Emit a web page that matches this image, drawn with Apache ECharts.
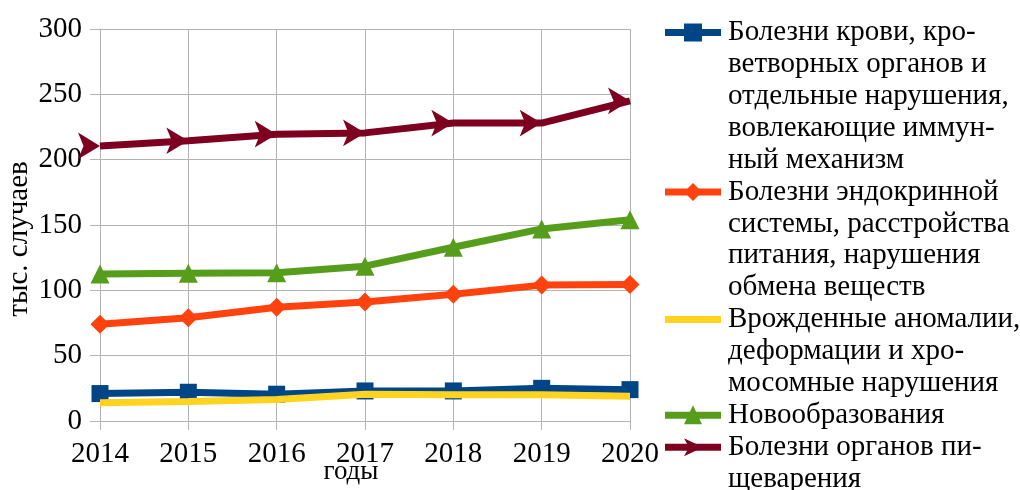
<!DOCTYPE html>
<html>
<head>
<meta charset="utf-8">
<script src="https://cdn.jsdelivr.net/npm/echarts@6/dist/echarts.min.js"></script>
<style>
  html, body {margin: 0; padding: 0; background: #fff;}
  #chart {width: 1020px; height: 490px;}
</style>
</head>
<body>
<div id="chart"></div>
<script>
// данные
var years = ['2014', '2015', '2016', '2017', '2018', '2019', '2020'];
var blood = [21, 22, 20.5, 23, 23, 25, 24];
var endocrine = [74, 79, 87, 91, 97, 104, 104.5];
var congenital = [14, 15, 16.5, 20.5, 20, 20, 19];
var neoplasms = [112.5, 113, 113.5, 118.5, 133, 147, 154];
var digestive = [210.5, 214.5, 219.5, 220.5, 228, 228, 245];
var yTicks = [0, 50, 100, 150, 200, 250, 300];

var legendLines = [
    ['Болезни крови, кро-', 'ветворных органов и', 'отдельные нарушения,', 'вовлекающие иммун-', 'ный механизм'],
    ['Болезни эндокринной', 'системы, расстройства', 'питания, нарушения', 'обмена веществ'],
    ['Врожденные аномалии,', 'деформации и хро-', 'мосомные нарушения'],
    ['Новообразования'],
    ['Болезни органов пи-', 'щеварения']
];

var colors = ['#004586', '#ff420e', '#ffd320', '#579d1c', '#7e0021'];
var font = "Liberation Serif";
var gridColor = '#b3b3b3';

function seriesName(i) {
    return legendLines[i].join(' ').replace(/- /g, '');
}

function lineSeries(i, data, symbol, size, extra) {
    var s = {
        name: seriesName(i),
        type: 'line',
        data: data,
        symbol: symbol,
        symbolSize: size,
        showSymbol: symbol !== 'none',
        lineStyle: {color: colors[i], width: 7},
        itemStyle: {color: colors[i]},
        z: 2
    };
    for (var k in extra) s[k] = extra[k];
    return s;
}

// легенда справа: значки через graphic, подписи через title (многострочный текст)
var lineH = 31.9;
var legendTop = 32.5;
var graphics = [];
var titles = [];
var startLine = 0;
for (var i = 0; i < legendLines.length; i++) {
    var cy = legendTop + startLine * lineH;
    var cx = 693;
    graphics.push({
        type: 'line',
        shape: {x1: 665, y1: cy, x2: 721, y2: cy},
        style: {stroke: colors[i], lineWidth: 7}
    });
    if (i === 0) {
        graphics.push({type: 'rect', shape: {x: cx - 9, y: cy - 9, width: 18, height: 18}, style: {fill: colors[i]}});
    } else if (i === 1) {
        graphics.push({type: 'polygon', shape: {points: [[cx, cy - 9], [cx + 9, cy], [cx, cy + 9], [cx - 9, cy]]}, style: {fill: colors[i]}});
    } else if (i === 3) {
        graphics.push({type: 'polygon', shape: {points: [[cx, cy - 10], [cx + 9, cy + 9], [cx - 9, cy + 9]]}, style: {fill: colors[i]}});
    } else if (i === 4) {
        graphics.push({type: 'polygon', shape: {points: [[cx + 10, cy], [cx - 9, cy - 9], [cx - 4, cy], [cx - 9, cy + 9]]}, style: {fill: colors[i]}});
    }
    titles.push({
        text: legendLines[i].join('\n'),
        left: 728,
        top: cy - lineH / 2,
        padding: 0,
        textStyle: {
            fontFamily: font,
            fontSize: 29,
            fontWeight: 'normal',
            lineHeight: lineH,
            color: '#000'
        }
    });
    startLine += legendLines[i].length;
}

var chart = echarts.init(document.getElementById('chart'));
chart.setOption({
    animation: false,
    backgroundColor: '#fff',
    textStyle: {fontFamily: font, color: '#000'},
    title: titles,
    grid: {left: 100, right: 390, top: 29, bottom: 69, containLabel: false, outerBoundsMode: 'none'},
    xAxis: {
        type: 'category',
        data: years,
        boundaryGap: false,
        name: 'годы',
        nameLocation: 'middle',
        nameGap: 37,
        nameMoveOverlap: false,
        nameTextStyle: {fontSize: 27, fontFamily: font, color: '#000', padding: [0, 28, 0, 0]},
        axisLine: {lineStyle: {color: gridColor}},
        axisTick: {show: true, length: 9, lineStyle: {color: gridColor}},
        axisLabel: {fontSize: 29, fontFamily: font, color: '#000', margin: 19},
        splitLine: {show: true, lineStyle: {color: gridColor}}
    },
    yAxis: {
        type: 'value',
        min: yTicks[0],
        max: yTicks[yTicks.length - 1],
        interval: 50,
        name: 'тыс. случаев',
        nameLocation: 'middle',
        nameGap: 66,
        nameMoveOverlap: false,
        nameTextStyle: {fontSize: 29, fontFamily: font, color: '#000', padding: [0, 28, 0, 0]},
        axisLine: {show: true, lineStyle: {color: gridColor}},
        axisTick: {show: true, length: 10, lineStyle: {color: gridColor}},
        axisLabel: {fontSize: 29, fontFamily: font, color: '#000', margin: 18},
        splitLine: {show: true, lineStyle: {color: gridColor}}
    },
    graphic: graphics,
    series: [
        lineSeries(0, blood, 'rect', 17),
        lineSeries(1, endocrine, 'diamond', 19),
        lineSeries(2, congenital, 'none', 0, {z: 3}),
        lineSeries(3, neoplasms, 'triangle', 19),
        lineSeries(4, digestive, 'arrow', [20, 22], {symbolRotate: -90})
    ]
});
</script>
</body>
</html>
